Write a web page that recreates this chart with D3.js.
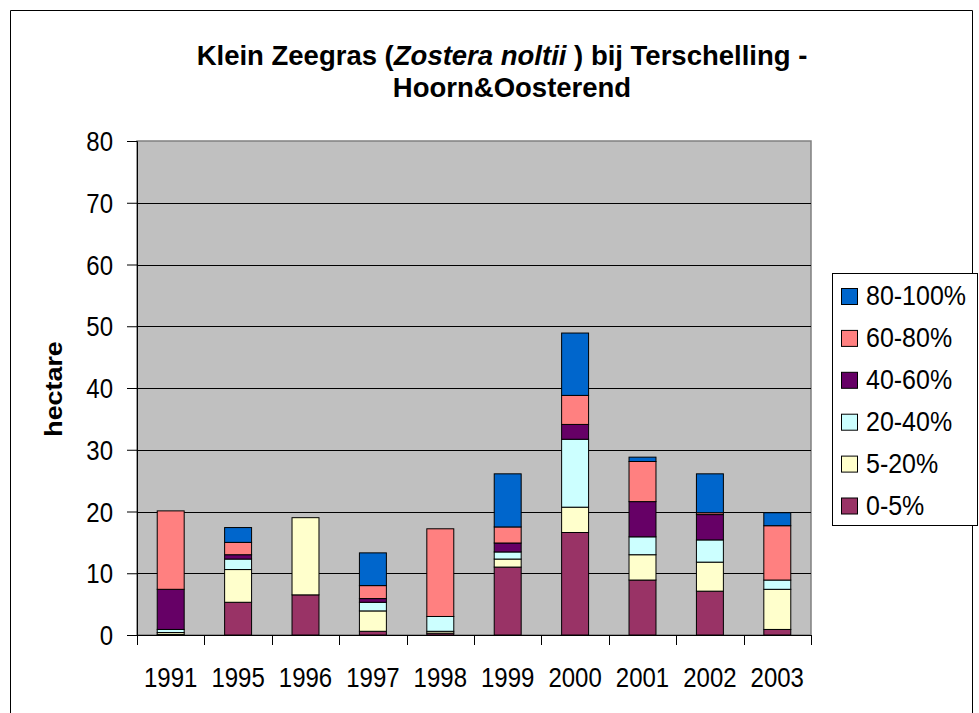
<!DOCTYPE html>
<html>
<head>
<meta charset="utf-8">
<script src="https://cdn.jsdelivr.net/npm/d3@7"></script>
<style>
  body { margin: 0; background: #fff; }
  svg text { font-family: "Liberation Sans", Arial, sans-serif; }
</style>
</head>
<body>
<div id="chart"></div>
<script>
var svgWidth = 979;
var svgHeight = 713;

// data (hectare per cover class)
var years = ["1991", "1995", "1996", "1997", "1998", "1999", "2000", "2001", "2002", "2003"];
var classes = ["0-5%", "5-20%", "20-40%", "40-60%", "60-80%", "80-100%"];
var colors = ["#993366", "#FFFFCC", "#CCFFFF", "#660066", "#FF8080", "#0066CC"];

var cover0_5    = [0.1, 5.3, 6.5, 0.6, 0.3, 11.0, 16.6, 8.9, 7.1, 0.9];
var cover5_20   = [0.3, 5.3, 12.5, 3.3, 0.3, 1.3, 4.1, 4.1, 4.7, 6.5];
var cover20_40  = [0.5, 1.7, 0, 1.4, 2.4, 1.15, 11.0, 2.9, 3.6, 1.5];
var cover40_60  = [6.5, 0.7, 0, 0.6, 0, 1.45, 2.4, 5.7, 4.1, 0];
var cover60_80  = [12.7, 2.0, 0, 2.1, 14.2, 2.6, 4.7, 6.5, 0.3, 8.8];
var cover80_100 = [0, 2.4, 0, 5.3, 0, 8.6, 10.1, 0.7, 6.3, 2.1];

var yTicks = [0, 10, 20, 30, 40, 50, 60, 70, 80];

var chartMargin = { top: 141, right: 168, bottom: 78, left: 137 };
var chartWidth = svgWidth - chartMargin.left - chartMargin.right;   // 674
var chartHeight = svgHeight - chartMargin.top - chartMargin.bottom; // 494

// the reference text is a bit taller than wide
var stretch = 1.12;
function stretchText(sel) {
  sel.attr("transform", function() {
    var x = +this.getAttribute("x") || 0;
    var y = +this.getAttribute("y") || 0;
    return `translate(${x},${y}) scale(1,${stretch}) translate(${-x},${-y})`;
  });
}

var table = years.map(function(y, i) {
  return {
    year: y,
    "0-5%": cover0_5[i],
    "5-20%": cover5_20[i],
    "20-40%": cover20_40[i],
    "40-60%": cover40_60[i],
    "60-80%": cover60_80[i],
    "80-100%": cover80_100[i]
  };
});

var series = d3.stack().keys(classes)(table);

var svg = d3.select("#chart")
  .append("svg")
  .attr("width", svgWidth)
  .attr("height", svgHeight);

// outer chart frame
svg.append("path")
  .attr("d", "M10.5," + svgHeight + "V10.5H972.5V" + svgHeight)
  .attr("fill", "none")
  .attr("stroke", "#000")
  .attr("stroke-width", 1);

// title
var title = svg.append("text")
  .attr("text-anchor", "middle")
  .attr("font-weight", "bold")
  .attr("font-size", 27.5)
  .attr("fill", "#000");
var line1 = title.append("tspan").attr("x", 502).attr("y", 65);
line1.append("tspan").text("Klein Zeegras (");
line1.append("tspan").attr("font-style", "italic").text("Zostera noltii");
line1.append("tspan").text(" ) bij Terschelling -");
title.append("tspan").attr("x", 512).attr("y", 97).text("Hoorn&Oosterend");

var chartGroup = svg.append("g")
  .attr("transform", `translate(${chartMargin.left}, ${chartMargin.top})`);

var xScale = d3.scaleBand()
  .domain(years)
  .range([0, chartWidth])
  .paddingInner(0.6)
  .paddingOuter(0.3);

var yScale = d3.scaleLinear()
  .domain([0, 80])
  .range([chartHeight, 0]);

// plot area
chartGroup.append("rect")
  .attr("width", chartWidth)
  .attr("height", chartHeight)
  .attr("fill", "#C0C0C0")
  .attr("stroke", "#808080")
  .attr("stroke-width", 1.5);

// gridlines
chartGroup.append("g")
  .selectAll("line")
  .data(yTicks.slice(1, -1))
  .enter()
  .append("line")
  .attr("x1", 0)
  .attr("x2", chartWidth)
  .attr("y1", d => Math.round(yScale(d)) + 0.5)
  .attr("y2", d => Math.round(yScale(d)) + 0.5)
  .attr("stroke", "#000")
  .attr("stroke-width", 1);

// bars
chartGroup.append("g")
  .selectAll("g")
  .data(series)
  .enter()
  .append("g")
  .attr("fill", (d, i) => colors[i])
  .selectAll("rect")
  .data(d => d)
  .enter()
  .filter(d => d[1] - d[0] > 0)
  .append("rect")
  .attr("x", d => xScale(d.data.year))
  .attr("width", xScale.bandwidth())
  .attr("y", d => yScale(d[1]))
  .attr("height", d => yScale(d[0]) - yScale(d[1]))
  .attr("stroke", "#000")
  .attr("stroke-width", 1);

// y axis
var yAxis = d3.axisLeft(yScale)
  .tickValues(yTicks)
  .tickSize(10)
  .tickPadding(14);

chartGroup.append("g")
  .attr("class", "axis")
  .call(yAxis)
  .call(g => g.attr("font-family", null).attr("font-size", null))
  .call(g => g.selectAll("text").attr("font-size", 24).attr("fill", "#000").attr("dy", "0.36em").call(stretchText))
  .call(g => g.selectAll("line, path").attr("stroke", "#000"));

// x axis: ticks between categories, labels centred
var xAxisG = chartGroup.append("g")
  .attr("transform", `translate(0, ${chartHeight})`);

xAxisG.append("line")
  .attr("x1", 0).attr("x2", chartWidth)
  .attr("y1", 0.5).attr("y2", 0.5)
  .attr("stroke", "#000");

var tickPos = d3.range(years.length + 1).map(i => i * chartWidth / years.length);
xAxisG.selectAll(".xtick")
  .data(tickPos)
  .enter()
  .append("line")
  .attr("x1", d => Math.round(d) + 0.5)
  .attr("x2", d => Math.round(d) + 0.5)
  .attr("y1", 0)
  .attr("y2", 10)
  .attr("stroke", "#000");

xAxisG.selectAll(".xlabel")
  .data(years)
  .enter()
  .append("text")
  .attr("x", d => xScale(d) + xScale.bandwidth() / 2)
  .attr("y", 52)
  .attr("text-anchor", "middle")
  .attr("font-size", 24)
  .attr("fill", "#000")
  .text(d => d)
  .call(stretchText);

// y axis title
svg.append("text")
  .attr("transform", "translate(62, 389) rotate(-90) scale(1.12,1)")
  .attr("text-anchor", "middle")
  .attr("font-weight", "bold")
  .attr("font-size", 24)
  .attr("fill", "#000")
  .text("hectare");

// legend
var legend = svg.append("g").attr("transform", "translate(832, 273)");
legend.append("rect")
  .attr("x", 0.5).attr("y", 0.5)
  .attr("width", 145).attr("height", 252)
  .attr("fill", "#fff")
  .attr("stroke", "#000");

var legendOrder = classes.slice().reverse();
var legendRows = legend.selectAll(".lrow")
  .data(legendOrder)
  .enter()
  .append("g")
  .attr("transform", (d, i) => `translate(0, ${23 + i * 41.9})`);

legendRows.append("rect")
  .attr("x", 9.5).attr("y", -7.5)
  .attr("width", 16).attr("height", 16)
  .attr("fill", d => colors[classes.indexOf(d)])
  .attr("stroke", "#000");

legendRows.append("text")
  .attr("x", 34)
  .attr("y", 9)
  .attr("font-size", 25)
  .attr("fill", "#000")
  .text(d => d)
  .call(stretchText);
</script>
</body>
</html>
